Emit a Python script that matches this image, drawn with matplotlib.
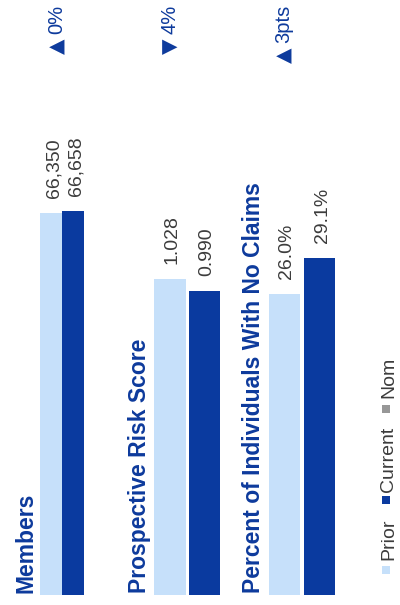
import matplotlib
matplotlib.use("Agg")
import matplotlib.pyplot as plt
from matplotlib.patches import Rectangle

# metrics shown in the scorecard
metrics = ["Members", "Prospective Risk Score", "Percent of Individuals With No Claims"]
prior = [66350, 1.028, 26.0]
current = [66658, 0.990, 29.1]
change_dir = ["\u25B2", "\u25BC", "\u25B2"]
change_txt = ["0%", "4%", "3pts"]
legend_labels = ["Prior", "Current", "Nom"]

LIGHT = "#c6e0fa"
DARK = "#0a3a9f"
GREY = "#979797"
TITLE_BLUE = "#0d3a9c"
TEXT_GREY = "#3c3c3c"

W, H = 400, 605
BASE_PX = 595      # bar baseline (from top)
TOP_PX = 5         # top of plotting area

plt.rcParams["font.family"] = ["Liberation Sans", "DejaVu Sans"]
fig = plt.figure(figsize=(W / 100, H / 100), dpi=100)
fig.patch.set_facecolor("white")


def fig_xy(x_px, y_px):
    return x_px / W, 1 - y_px / H


# left edge px, axis width px, bar width, y max, label format, change label offset px
layout = [
    (40.0, 44, 0.96, 102400, "{:,.0f}", 11),
    (152.75, 69, 0.92, 1.92, "{:.3f}", 5),
    (267.0, 70, 0.89, 51.0, "{:.1f}%", 5),
]

change_texts = []
for i, (left, width, bw, ymax, fmt, chg_dx) in enumerate(layout):
    ax = fig.add_axes([left / W, (H - BASE_PX) / H, width / W, (BASE_PX - TOP_PX) / H])
    ax.bar([0, 1], [prior[i], current[i]], width=bw, color=[LIGHT, DARK])
    ax.set_xlim(-0.5, 1.5)
    ax.set_ylim(0, ymax)
    ax.axis("off")

    # value labels above each bar
    for x, v in zip([0, 1], [prior[i], current[i]]):
        ax.annotate(fmt.format(v), xy=(x, v), xytext=(7, 15),
                    textcoords="offset pixels", rotation=90,
                    rotation_mode="anchor", ha="left", va="baseline",
                    fontsize=14, color=TEXT_GREY, annotation_clip=False)

    # change indicator at the top
    t = ax.annotate(change_txt[i], xy=(0, 1), xycoords=("data", "axes fraction"),
                    xytext=(chg_dx, 0), textcoords="offset pixels", rotation=90,
                    rotation_mode="anchor", ha="right", va="baseline",
                    fontsize=14.5, color=TITLE_BLUE, annotation_clip=False)
    change_texts.append((ax, t, chg_dx))

    # metric title running up the left side of the bars
    ax.annotate(metrics[i], xy=(0, 0), xycoords="axes fraction",
                xytext=(-7, 2), textcoords="offset pixels", rotation=90,
                rotation_mode="anchor", ha="left", va="baseline",
                fontsize=16.5, fontweight="bold", color=TITLE_BLUE,
                annotation_clip=False)

# arrows go just below their change text, using DejaVu for the triangle glyph
fig.canvas.draw()
renderer = fig.canvas.get_renderer()
for i, (ax, t, chg_dx) in enumerate(change_texts):
    ext = t.get_window_extent(renderer)
    ax.annotate(change_dir[i], xy=(0, 1), xycoords=("data", "axes fraction"),
                xytext=(chg_dx + 1, -ext.height - 4), textcoords="offset pixels",
                rotation=90, rotation_mode="anchor", ha="right", va="baseline",
                fontsize=14.5, color=TITLE_BLUE, family="DejaVu Sans",
                annotation_clip=False)

# legend drawn sideways along the right edge
legend_colors = [LIGHT, DARK, GREY]
square_y = [570, 500, 409]
text_y = [560, 492, 398]
for lab, col, sy, ty in zip(legend_labels, legend_colors, square_y, text_y):
    x0, y0 = fig_xy(382, sy + 4)
    fig.add_artist(Rectangle((x0, y0), 8 / W, 8 / H, transform=fig.transFigure,
                             facecolor=col, edgecolor="none"))
    tx, ty_f = fig_xy(393, ty)
    fig.text(tx, ty_f, lab, rotation=90, rotation_mode="anchor",
             ha="left", va="baseline", fontsize=14, color=TEXT_GREY)

fig.savefig("out.png", dpi=100, facecolor="white")
